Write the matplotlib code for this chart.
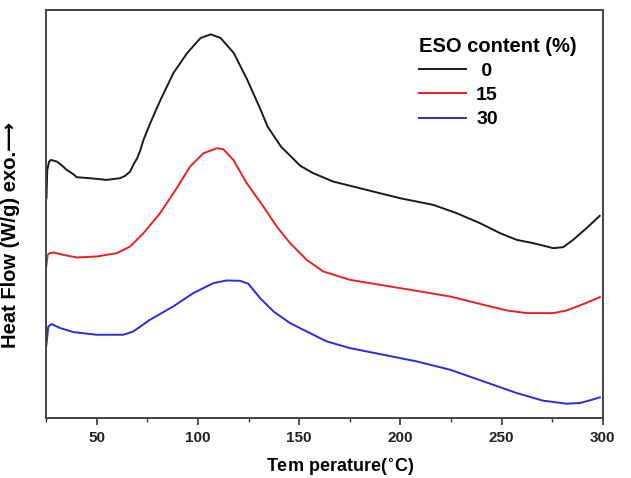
import matplotlib
matplotlib.use('Agg')
import matplotlib.pyplot as plt
from matplotlib.ticker import MultipleLocator

plt.rcParams['font.family'] = ['Liberation Sans', 'DejaVu Sans']
plt.rcParams['font.weight'] = 'bold'

# DSC curves (arbitrary heat flow units, stacked)
t_0 = [25.2, 25.6, 26.5, 27.4, 30.3, 32.5, 35.2, 38.5, 40.2, 46.7, 55, 61.5, 64, 66.5, 68.5,
       70, 71.6, 73.1, 76.5, 81.5, 87.9, 94.7, 101.3, 106.3, 111.2, 117.7, 124.4, 131, 134.4,
       141, 150.6, 157, 166.8, 183.3, 199.8, 216.2, 227.8, 239.3, 249.2, 257.4, 265.6, 275.5,
       280.4, 285.3, 291.9, 298.4]
hf_0 = [6.65, 7.5, 7.75, 7.8, 7.75, 7.65, 7.5, 7.37, 7.28, 7.25, 7.2, 7.25, 7.32, 7.45, 7.7,
        7.85, 8.1, 8.4, 8.91, 9.6, 10.41, 11.01, 11.46, 11.57, 11.46, 11.01, 10.2, 9.3, 8.8,
        8.2, 7.62, 7.4, 7.15, 6.9, 6.65, 6.45, 6.2, 5.9, 5.6, 5.4, 5.3, 5.15,
        5.18, 5.4, 5.75, 6.12]

t_15 = [25.1, 25.8, 26.8, 28.6, 33.5, 40.2, 50, 60, 66.5, 73.1, 81.3, 89.5, 96.1, 102.7, 109.3,
        112.5, 117.5, 124.1, 132.3, 138.9, 145.5, 153.7, 161.9, 175, 199.8, 224.5, 241, 252.5,
        262.4, 275.5, 282.1, 290.3, 298.5]
hf_15 = [4.6, 4.95, 5.0, 5.02, 4.95, 4.87, 4.9, 5.0, 5.2, 5.6, 6.2, 6.95, 7.6, 8.0, 8.15,
         8.12, 7.8, 7.1, 6.4, 5.8, 5.3, 4.8, 4.45, 4.2, 3.95, 3.7, 3.45, 3.28,
         3.2, 3.2, 3.28, 3.47, 3.68]

t_30 = [25.1, 26.1, 27.8, 32, 38.5, 50, 63.2, 68.1, 76.3, 87.8, 97.7, 107.6, 114.2, 120.8,
        124.9, 130.7, 137.3, 145.5, 150.4, 155.3, 163.6, 175, 191.5, 208, 224.5, 241, 257.4,
        270.5, 282.1, 288.6, 293.6, 298.5]
hf_30 = [2.2, 2.8, 2.87, 2.75, 2.63, 2.55, 2.55, 2.65, 3.0, 3.4, 3.8, 4.1, 4.18, 4.17,
         4.08, 3.65, 3.25, 2.9, 2.75, 2.6, 2.35, 2.15, 1.95, 1.75, 1.5, 1.15, 0.8,
         0.57, 0.48, 0.5, 0.58, 0.67]

fig = plt.figure(figsize=(6.31, 4.78), dpi=100)
ax = fig.add_axes([0.073, 0.1255, 0.8825, 0.8535])

ax.plot(t_0, hf_0, color='#1a1a1a', lw=1.4, label=' 0')
ax.plot(t_15, hf_15, color='#e82222', lw=1.4, label='15')
ax.plot(t_30, hf_30, color='#2b2bd8', lw=1.4, label='30')

ax.set_xlim(25, 300)
ax.set_ylim(0.05, 12.3)
ax.xaxis.set_major_locator(MultipleLocator(50))
ax.xaxis.set_minor_locator(MultipleLocator(25))
ax.tick_params(axis='x', which='major', direction='out', length=5, width=1.2,
               labelsize=11, colors='#333333', labelcolor='#222222', pad=4)
ax.tick_params(axis='x', which='minor', direction='out', length=3, width=1.0, colors='#333333')
ax.set_yticks([])
for s in ax.spines.values():
    s.set_color('#444444')
    s.set_linewidth(1.4)

ax.set_xlabel(r'Tem perature($^{\circ}$C)', fontsize=13, fontweight='bold')
ax.xaxis.set_label_coords(0.528, -0.096)
ax.set_ylabel('Heat Flow (W/g) exo.\u27f6', fontsize=14.5, fontweight='bold')
ax.yaxis.set_label_coords(-0.047, 0.449)

leg = ax.legend(title='ESO content (%)', loc='upper left', bbox_to_anchor=(0.645, 0.968),
                frameon=False, handlelength=2.4, handletextpad=0.55, borderpad=0.2,
                prop={'weight': 'bold', 'size': 14}, title_fontproperties={'weight': 'bold', 'size': 14.5},
                labelspacing=0.34)
leg._legend_box.align = 'left'

fig.savefig('out.png', dpi=100)
